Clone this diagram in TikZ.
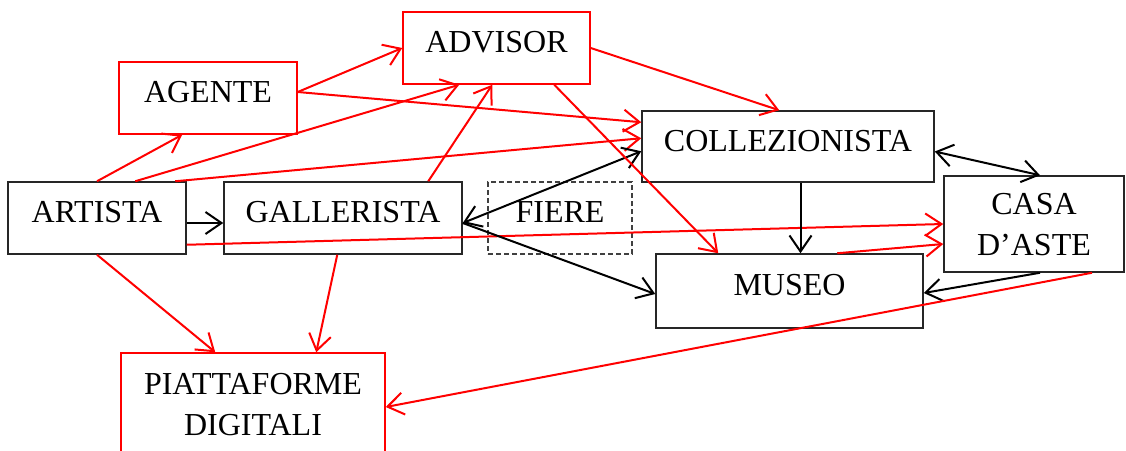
\documentclass[tikz,border=0pt]{standalone}
\usepackage{fontspec}
\setmainfont{Liberation Serif}
\usetikzlibrary{arrows.meta}

\tikzset{
  box/.style={draw=black!85, line width=1.5pt, inner sep=0pt, text depth=12pt},
  redbox/.style={box, draw=red},
  fairbox/.style={box, draw=black!75, dash pattern=on 5pt off 3pt},
  link/.style={-{Straight Barb[length=16pt,width=22pt]}, line width=2pt},
  rlink/.style={link, red},
  twoway/.style={link, {Straight Barb[length=16pt,width=22pt]}-{Straight Barb[length=16pt,width=22pt]}},
}

\begin{document}
\begin{tikzpicture}[x=1pt,y=-1pt, font=\fontsize{32}{41}\selectfont]
  \clip (0,0) rectangle (1126,450);
  \node[redbox, minimum width=187pt, minimum height=72pt] (advisor) at (496.5,48) {ADVISOR};
  \node[redbox, minimum width=178pt, minimum height=72pt] (agente) at (208,98) {AGENTE};
  \node[box, minimum width=178pt, minimum height=72pt] (artista) at (97,218) {ARTISTA};
  \node[box, minimum width=238pt, minimum height=72pt] (gallerista) at (343,218) {GALLERISTA};
  \node[fairbox, minimum width=144pt, minimum height=72pt] (fiere) at (560,218) {FIERE};
  \node[box, minimum width=292pt, minimum height=71pt] (collez) at (788,146.5) {COLLEZIONISTA};
  \node[box, minimum width=180pt, minimum height=96pt, align=center, text depth=0pt] (casa) at (1034,224) {CASA\\D’ASTE};
  \node[box, minimum width=267pt, minimum height=74pt] (museo) at (789.5,291) {MUSEO};
  \node[redbox, minimum width=264pt, minimum height=102pt, align=center, text depth=0pt] (piatt) at (253,404) {PIATTAFORME\\DIGITALI};

  \draw[rlink] (artista.north) -- ([xshift=64pt]agente.south west);
  \draw[rlink] ([xshift=128pt]artista.north west) -- ([xshift=57pt]advisor.south west);
  \draw[rlink] ([xshift=168pt]artista.north west) -- ([yshift=-28pt]collez.north west);
  \draw[link] ([yshift=-5pt]artista.east) -- ([yshift=-5pt]gallerista.west);
  \draw[rlink] ([yshift=10pt]artista.south east) -- (casa.west);
  \draw[rlink] (artista.south) -- ([xshift=95pt]piatt.north west);
  \draw[rlink] ([yshift=6pt]agente.east) -- (advisor.west);
  \draw[rlink] ([yshift=6pt]agente.east) -- ([yshift=-12pt]collez.north west);
  \draw[rlink] ([xshift=205pt]gallerista.north west) -- ([xshift=90pt]advisor.south west);
  \draw[rlink] ([xshift=114pt]gallerista.south west) -- ([xshift=196pt]piatt.north west);
  \draw[twoway] ([yshift=-5pt]gallerista.east) -- ([yshift=-41pt]collez.north west);
  \draw[link] ([yshift=-5pt]gallerista.east) -- ([yshift=-3pt]museo.west);
  \draw[rlink] (advisor.east) -- ([xshift=138pt]collez.north west);
  \draw[rlink] ([xshift=152pt]advisor.south west) -- ([xshift=63pt]museo.north west);
  \draw[link] ([xshift=11pt]museo.north |- collez.south) -- ([xshift=11pt]museo.north);
  \draw[twoway] ([yshift=-5pt]collez.east) -- ([xshift=6pt]casa.north);
  \draw[rlink] ([xshift=182pt]museo.north west) -- ([yshift=-20pt]casa.west);
  \draw[link] ([xshift=6pt]casa.south) -- ([yshift=-2pt]museo.east);
  \draw[rlink] ([xshift=58pt]casa.south) -- ([yshift=-3pt]piatt.east);
\end{tikzpicture}
\end{document}
